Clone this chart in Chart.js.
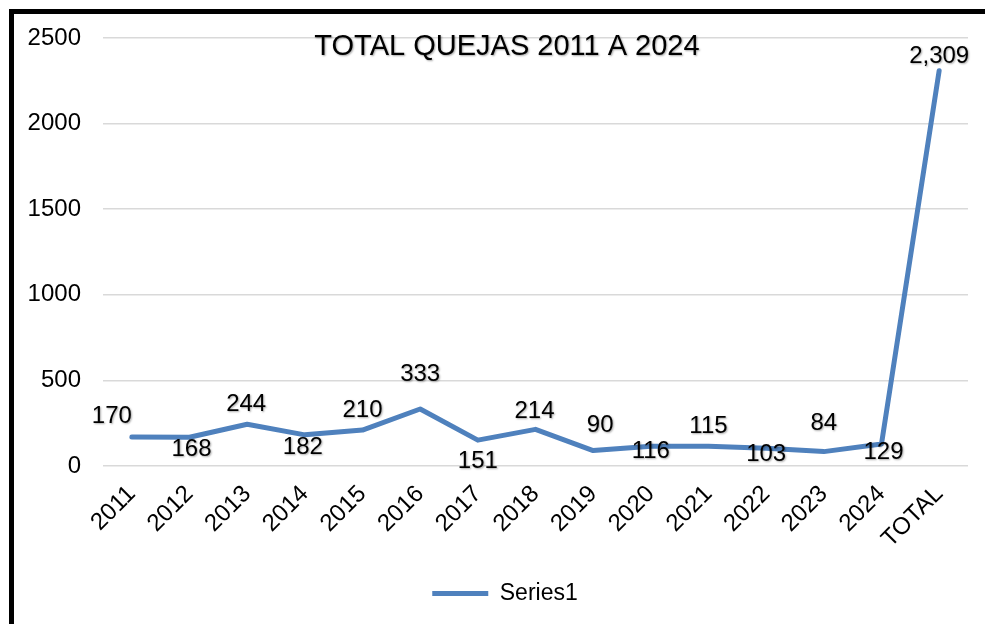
<html>
  <head>
    <style>
      body { margin: 0; background: #fff; }
      #wrap { position: relative; width: 985px; height: 624px; overflow: hidden; }
      #frame {
        position: absolute; left: 9px; top: 9px; width: 1100px; height: 800px;
        border: 5px solid #000; box-sizing: border-box;
      }
      #myChart { position: absolute; left: 0; top: 0; }
    </style>
  </head>
  <body>
    <div id="wrap">
      <div id="frame"></div>
      <canvas id="myChart" width="985" height="624"></canvas>
    </div>

    <script src="https://cdn.jsdelivr.net/npm/chart.js"></script>

    <script>
      var years = ["2011", "2012", "2013", "2014", "2015", "2016", "2017", "2018",
        "2019", "2020", "2021", "2022", "2023", "2024", "TOTAL"];
      var quejas = [170, 168, 244, 182, 210, 333, 151, 214, 90, 116, 115, 103, 84, 129, 2309];
      var yTicks = [0, 500, 1000, 1500, 2000, 2500];
      var chartTitle = "TOTAL QUEJAS 2011 A 2024";

      // where each value label sits relative to its point (dx, dy in px)
      var labelOffset = [[-20, -21], [2, 12], [-1, -20], [-2, 13], [0, -20], [0, -35], [0, 21],
        [-1, -18], [7, -25], [0, 5], [0, -20], [0, 6], [0, -28], [2, 8], [0, -14]];

      var font = "'Liberation Sans', Arial, sans-serif";
      var blue = "rgb(79, 129, 189)";

      var textShadow = function (ctx) {
        ctx.shadowColor = "rgba(0,0,0,0.35)";
        ctx.shadowBlur = 2;
        ctx.shadowOffsetX = 1;
        ctx.shadowOffsetY = 1;
      };

      var labelsPlugin = {
        id: "labels",
        afterLayout(chart) {
          // legend sits a bit right of the canvas centre, like the original
          chart.legend.left += 42;
        },
        afterDatasetsDraw(chart) {
          var ctx = chart.ctx;
          var meta = chart.getDatasetMeta(0);
          ctx.save();
          textShadow(ctx);
          ctx.fillStyle = "#000";
          ctx.font = "24px " + font;
          ctx.textAlign = "center";
          ctx.textBaseline = "middle";
          meta.data.forEach(function (pt, i) {
            var off = labelOffset[i];
            ctx.fillText(quejas[i].toLocaleString("en-US"), pt.x + off[0], pt.y + off[1]);
          });
          var area = chart.chartArea;
          ctx.font = "29px " + font;
          ctx.fillText(chartTitle, area.left + 404, area.top + 9);
          ctx.restore();
        },
      };

      var data = {
        labels: years,
        datasets: [{
          label: "Series1",
          data: quejas,
          borderColor: blue,
          backgroundColor: blue,
          borderWidth: 5,
          borderCapStyle: "round",
          borderJoinStyle: "round",
          pointRadius: 0,
          pointHoverRadius: 0,
          tension: 0,
          fill: false,
        }],
      };

      var config = {
        type: "line",
        data: data,
        plugins: [labelsPlugin],
        options: {
          responsive: false,
          animation: false,
          events: [],
          layout: { padding: { left: 0, right: 17, top: 38, bottom: 9 } },
          plugins: {
            title: { display: false },
            tooltip: { enabled: false },
            legend: {
              position: "bottom",
              labels: {
                usePointStyle: true,
                pointStyle: "line",
                pointStyleWidth: 56,
                boxHeight: 23,
                color: "#000",
                padding: 10,
                font: { family: font, size: 23 },
              },
            },
          },
          scales: {
            x: {
              offset: true,
              grid: { display: false, drawTicks: false },
              border: { display: false },
              ticks: {
                color: "#000",
                font: { family: font, size: 24 },
                maxRotation: 45,
                minRotation: 45,
                padding: 14,
                autoSkip: false,
              },
              afterFit(scale) { scale.height = 106; },
            },
            y: {
              min: 0,
              max: 2500,
              afterBuildTicks(scale) { scale.ticks = yTicks.map((v) => ({ value: v })); },
              grid: { color: "#d9d9d9", lineWidth: 1.5, drawTicks: false },
              border: { display: false },
              ticks: {
                color: "#000",
                font: { family: font, size: 24 },
                padding: 22,
                callback: (v) => String(v),
              },
              afterFit(scale) { scale.width = 103; },
            },
          },
        },
      };

      const myChart = new Chart(document.getElementById("myChart"), config);
    </script>
  </body>
</html>
